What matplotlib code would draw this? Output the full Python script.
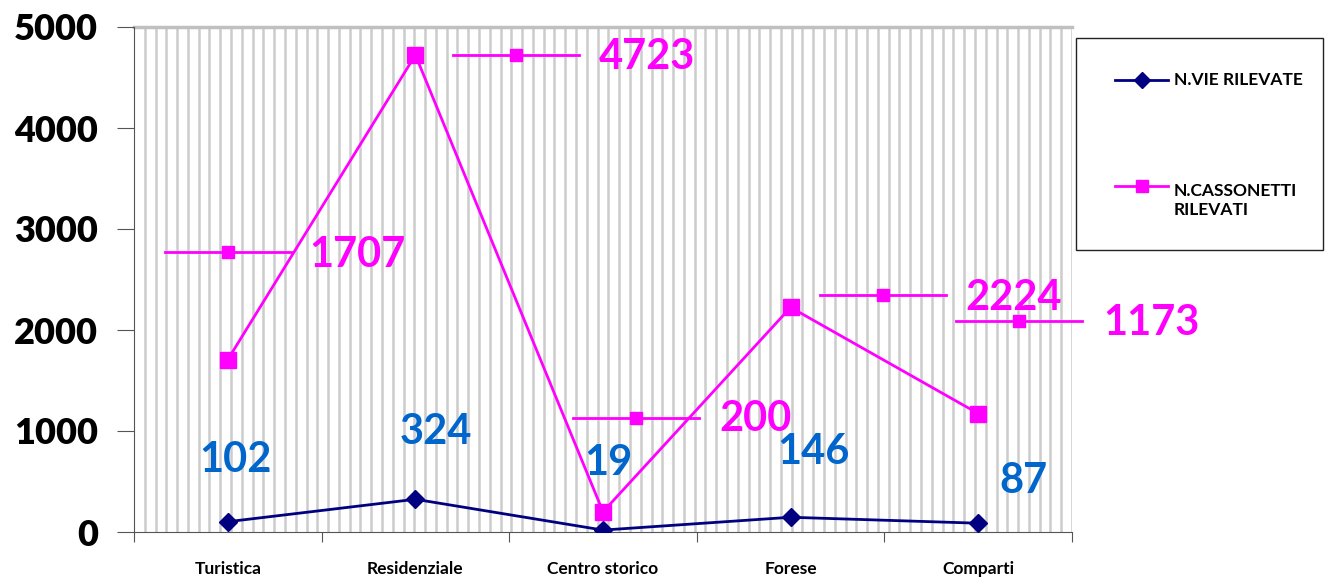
import numpy as np
import matplotlib
matplotlib.use('Agg')
import matplotlib.pyplot as plt
from matplotlib.lines import Line2D
from matplotlib.transforms import IdentityTransform
from matplotlib.patches import Rectangle

categories = ['Turistica', 'Residenziale', 'Centro storico', 'Forese', 'Comparti']
vie = [102, 324, 19, 146, 87]
cassonetti = [1707, 4723, 200, 2224, 1173]
yticks = [0, 1000, 2000, 3000, 4000, 5000]
series_names = ['N.VIE RILEVATE', 'N.CASSONETTI\nRILEVATI']

# label offsets in pixels from each point (as placed in the original)
vie_label_off = [(8, 62), (20, 67), (5, 67), (23, 65), (45, 42)]
cass_key_off = [(0, 108), (101, 0), (33, 94), (92, 12), (41, 93)]
cass_text_off = [(130, 105), (232, -2), (153, 93), (223, 9), (173, 91)]

NAVY = '#000080'
MAG = '#FF00FF'
BLUE = '#0066CC'
W, H = 1326, 577

plt.rcParams['font.family'] = ['Lato', 'DejaVu Sans']

fig = plt.figure(figsize=(W / 100, H / 100), dpi=100)
ax = fig.add_axes([134 / W, 45 / H, 938 / W, 505 / H])

x = np.arange(len(categories))
ax.set_xlim(-0.5, len(categories) - 0.5)
ax.set_ylim(0, 5000)

# striped background
for sx in np.linspace(-0.5, len(categories) - 0.5, 88)[1:]:
    ax.axvline(sx, color='#cccccc', lw=1.8, zorder=0)
ax.axhline(5000, color='#c0c0c0', lw=2.5, zorder=0, clip_on=False)

ax.plot(x, vie, color=NAVY, lw=2, marker='D', ms=9, zorder=3)
ax.plot(x, cassonetti, color=MAG, lw=2, marker='s', ms=11, zorder=3)

for s in ['top', 'right']:
    ax.spines[s].set_visible(False)
ax.spines['left'].set_color('#555555')
ax.spines['bottom'].set_color('#555555')

ax.set_yticks(yticks)
ax.set_yticklabels([str(v) for v in yticks], fontsize=26, fontweight='heavy')
ax.tick_params(axis='y', length=12, color='#555555', pad=14)
ax.set_xticks(np.arange(-0.5, len(categories)))
ax.set_xticklabels([])
ax.tick_params(axis='x', length=7, color='#555555')
ax.set_xticks(x, minor=True)
ax.set_xticklabels(categories, minor=True, fontsize=12.5, fontweight='bold')
ax.tick_params(axis='x', which='minor', length=0, pad=21)

# data labels
for xi, v, (dx, dy) in zip(x, vie, vie_label_off):
    px, py = ax.transData.transform((xi, v))
    ax.text(px + dx, py + dy, str(v), transform=IdentityTransform(),
            ha='center', va='center', fontsize=30, fontweight='bold', color=BLUE)

for xi, v, (kx, ky), (tx, ty) in zip(x, cassonetti, cass_key_off, cass_text_off):
    px, py = ax.transData.transform((xi, v))
    fig.add_artist(Line2D([px + kx - 63, px + kx + 63], [py + ky, py + ky],
                          transform=IdentityTransform(), color=MAG, lw=2))
    fig.add_artist(Line2D([px + kx], [py + ky], transform=IdentityTransform(),
                          color=MAG, marker='s', ms=8, lw=0))
    ax.text(px + tx, py + ty, str(v), transform=IdentityTransform(),
            ha='center', va='center', fontsize=30, fontweight='bold', color=MAG)

# legend box, drawn by hand to keep Excel's layout
fig.add_artist(Rectangle((1076 / W, 1 - 250 / H), 247 / W, 212 / H,
                         transform=fig.transFigure, fill=False, ec='#222222', lw=1))
leg_style = [(NAVY, 'D', 8, 80, 72), (MAG, 's', 9, 186, 183)]
for name, (col, mk, ms, yy, ty) in zip(series_names, leg_style):
    fig.add_artist(Line2D([1115 / W, 1168 / W], [1 - yy / H, 1 - yy / H],
                          transform=fig.transFigure, color=col, lw=2))
    fig.add_artist(Line2D([1141.5 / W], [1 - yy / H], transform=fig.transFigure,
                          color=col, marker=mk, ms=ms, lw=0))
    fig.text(1174 / W, 1 - ty / H, name, ha='left', va='top',
             fontsize=12.5, fontweight='bold', linespacing=1.25)

fig.savefig('out.png', dpi=100)
